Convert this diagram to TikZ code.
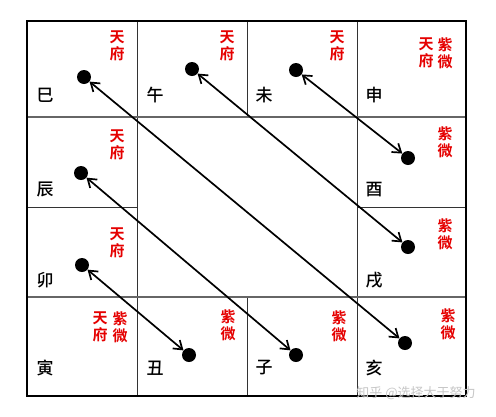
\documentclass[tikz,border=0pt]{standalone}
\usepackage{fontspec}
\newfontfamily\cjk{Noto Sans CJK SC}
\newfontfamily\cjkm{Noto Sans CJK SC Medium}
\newfontfamily\cjkb{Noto Sans CJK SC Bold}
\usetikzlibrary{arrows.meta}
\begin{document}
\begin{tikzpicture}[x=1pt,y=-1pt,
  branch/.style={font=\cjkm\fontsize{17}{17}\selectfont, inner sep=0pt, text=black},
  star/.style={font=\cjkb\fontsize{15}{17}\selectfont, inner sep=0pt, text=red!90!black, align=center},
  dotn/.style={circle, fill=black, minimum size=14pt, inner sep=0pt},
  link/.style={line width=1.7pt, {Straight Barb[length=8pt,width=11pt,line width=1.7pt]}-{Straight Barb[length=8pt,width=11pt,line width=1.7pt]}},
  inner/.style={line width=1pt, draw=black!80}
]
\useasboundingbox (0,0) rectangle (496,416);
\fill[white] (0,0) rectangle (496,416);
% grid
\draw[inner] (137,21) -- (137,396);
\draw[inner] (357,21) -- (357,396);
\draw[inner] (247,21) -- (247,117);
\draw[inner] (247,297) -- (247,396);
\draw[inner, draw=black!60, line width=1.3pt] (27,117) -- (466,117);
\draw[inner, draw=black!60, line width=1.3pt] (27,297) -- (466,297);
\draw[inner] (27,207) -- (137,207);
\draw[inner] (357,207) -- (466,207);
\draw[line width=2.2pt] (27,21) rectangle (466,396);
% branch labels
\node[branch] (si) at (45,95) {巳};
\node[branch] (wu) at (155,95) {午};
\node[branch] (wei) at (264,95) {未};
\node[branch] (shen) at (374,95) {申};
\node[branch] (chen) at (45,189) {辰};
\node[branch] (you) at (374,190) {酉};
\node[branch] (mao) at (45,280) {卯};
\node[branch] (xu) at (374,280) {戌};
\node[branch] (yin) at (45,368) {寅};
\node[branch] (chou) at (155,368) {丑};
\node[branch] (zi) at (264,368) {子};
\node[branch] (hai) at (374,368) {亥};
% red star labels
\node[star] (t1) at (117,46) {天\\府};
\node[star] (t2) at (227,46) {天\\府};
\node[star] (t3) at (337,46) {天\\府};
\node[star] (t4) at (426,53) {天\\府};
\node[star] (z4) at (445,53) {紫\\微};
\node[star] (t5) at (117,145) {天\\府};
\node[star] (z6) at (445,142) {紫\\微};
\node[star] (t7) at (117,243) {天\\府};
\node[star] (z8) at (445,234) {紫\\微};
\node[star] (t9) at (100,327) {天\\府};
\node[star] (z9) at (120,327) {紫\\微};
\node[star] (z10) at (228,325) {紫\\微};
\node[star] (z11) at (339,326) {紫\\微};
\node[star] (z12) at (448,324) {紫\\微};
% dots
\node[dotn] (dsi) at (84,77) {};
\node[dotn] (dwu) at (192,69) {};
\node[dotn] (dwei) at (296,70) {};
\node[dotn] (dyou) at (408,158) {};
\node[dotn] (dxu) at (408,247) {};
\node[dotn] (dchen) at (81,173) {};
\node[dotn] (dmao) at (82,265) {};
\node[dotn] (dchou) at (189,355) {};
\node[dotn] (dzi) at (296,355) {};
\node[dotn] (dhai) at (405,343) {};
% links
\draw[link] (dsi) -- (dhai);
\draw[link] (dwu) -- (dxu);
\draw[link] (dwei) -- (dyou);
\draw[link] (dchen) -- (dzi);
\draw[link] (dmao) -- (dchou);
% watermark
\node[font=\cjk\fontsize{13}{13}\selectfont, text=black!22, inner sep=0pt] (wm) at (416,393) {知乎 @选择大于努力};
\end{tikzpicture}
\end{document}
